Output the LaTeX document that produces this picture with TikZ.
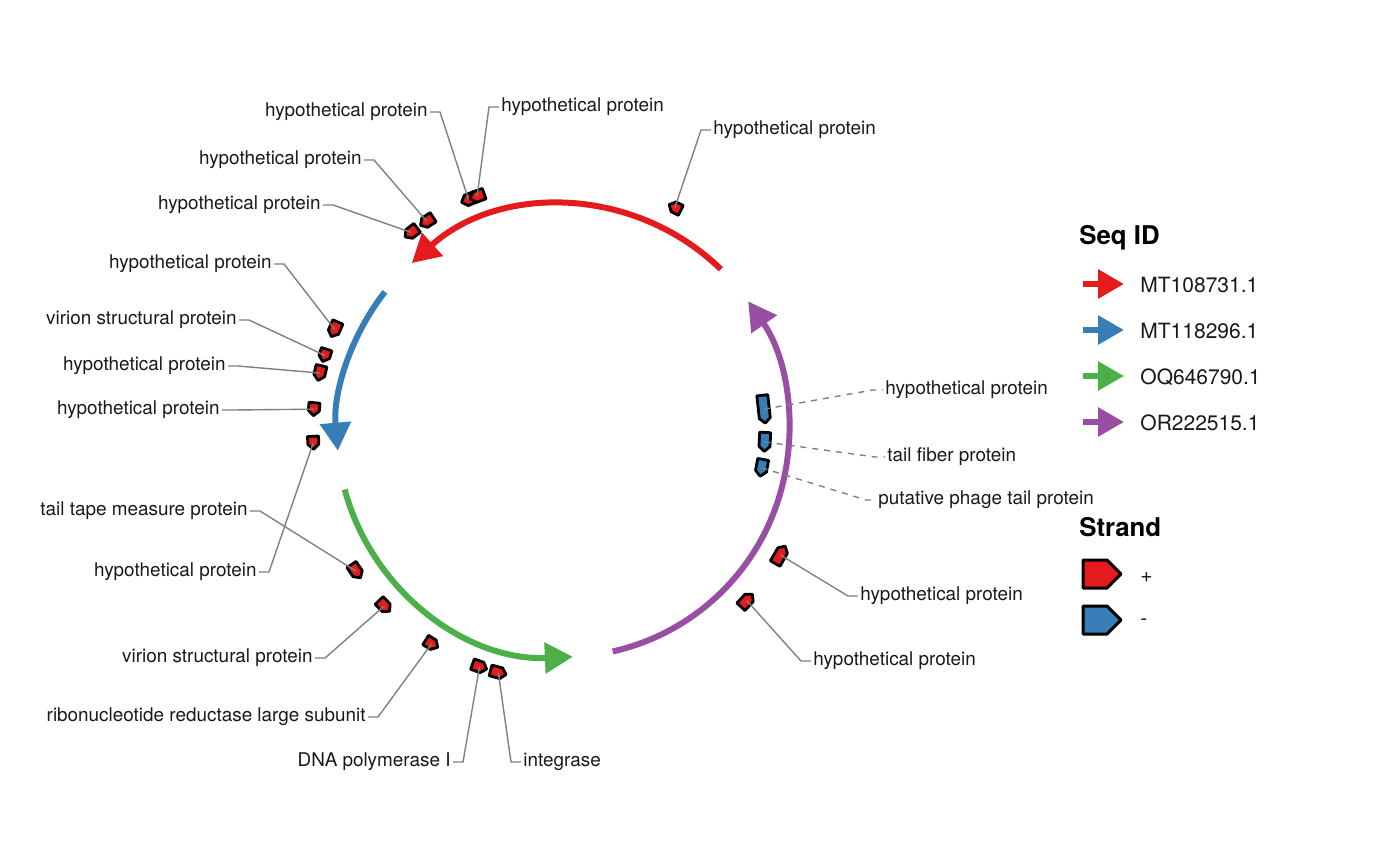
\documentclass[tikz,border=0pt]{standalone}
\usepackage{fontspec}
\setmainfont{TeX Gyre Heros}
\usetikzlibrary{arrows.meta}

\definecolor{setred}{HTML}{E41A1C}
\definecolor{setblue}{HTML}{377EB8}
\definecolor{setgreen}{HTML}{4DAF4A}
\definecolor{setpurple}{HTML}{984EA3}

\tikzset{
  seqarc/.style={line width=3pt,-{Triangle[length=14pt,width=15pt]}},
  keyarrow/.style={line width=3pt,-{Triangle[length=13pt,width=14pt]}},
  genebox/.style={draw=black,line width=1.4pt,line join=round},
  conn/.style={draw=black!50,line width=0.7pt},
  lbl/.style={font=\fontsize{9.45pt}{11pt}\selectfont,text=black!90,inner sep=1pt},
  keytxt/.style={font=\fontsize{10.5pt}{12pt}\selectfont,text=black!90,inner sep=0pt,anchor=west},
  keytitle/.style={font=\fontsize{12.9pt}{15pt}\selectfont\bfseries,inner sep=0pt,anchor=west},
}

% forward gene, outside the ring: name, angle, length
\newcommand{\fwdgene}[3]{%
  \begin{scope}[shift={(ctr)},rotate=#2]
    \draw[genebox,fill=setred] (244.5,#3/2) -- (255.5,#3/2) -- (255.5,-#3/2+5) -- (250,-#3/2) -- (244.5,-#3/2+5) -- cycle;
    \coordinate (#1) at (250,0);
  \end{scope}}
% reverse gene, inside the ring
\newcommand{\revgene}[3]{%
  \begin{scope}[shift={(ctr)},rotate=#2]
    \draw[genebox,fill=setblue] (196.5,-#3/2) -- (207.5,-#3/2) -- (207.5,#3/2-5) -- (202,#3/2) -- (196.5,#3/2-5) -- cycle;
    \coordinate (#1) at (202,0);
  \end{scope}}

\begin{document}
\begin{tikzpicture}[x=0.5pt,y=-0.5pt]
  \useasboundingbox (0,0) rectangle (1400,866);
  \coordinate (ctr) at (563,431);

  % sequences (y axis points down, so angles are negated)
  \draw[seqarc,setred] (ctr) ++(-45.7:226) arc[start angle=-45.7,end angle=-132,radius=226];
  \draw[seqarc,setblue] (ctr) ++(-142:226) arc[start angle=-142,end angle=-185,radius=226];
  \draw[seqarc,setgreen] (ctr) ++(-195:226) arc[start angle=-195,end angle=-272.5,radius=226];
  \draw[seqarc,setpurple] (ctr) ++(-282.7:226) arc[start angle=-282.7,end angle=-395,radius=226];

  % genes
  \fwdgene{g1}{112.2}{15}
  \fwdgene{g2}{110.1}{15}
  \fwdgene{g3}{63.4}{13}
  \fwdgene{g4}{123}{15}
  \fwdgene{g5}{127.4}{15}
  \fwdgene{g6}{156}{16}
  \fwdgene{g7}{162.4}{13}
  \fwdgene{g8}{166.6}{15}
  \fwdgene{g9}{175}{13}
  \fwdgene{g10}{214.1}{16}
  \fwdgene{g11}{182.7}{13}
  \fwdgene{g12}{224.4}{15}
  \fwdgene{g13}{238.3}{14}
  \fwdgene{g14}{250.5}{15}
  \fwdgene{g15}{255}{16}
  \revgene{g16}{6.2}{28}
  \revgene{g17}{-3.1}{19}
  \revgene{g18}{-10.5}{17}
  \fwdgene{g19}{330.3}{20}
  \fwdgene{g20}{317.3}{17}

  % labels
  \node[lbl,anchor=east] (l1) at (430,112) {hypothetical protein};
  \node[lbl,anchor=west] (l2) at (499,107) {hypothetical protein};
  \node[lbl,anchor=west] (l3) at (711,130) {hypothetical protein};
  \node[lbl,anchor=east] (l4) at (364,160) {hypothetical protein};
  \node[lbl,anchor=east] (l5) at (323,205) {hypothetical protein};
  \node[lbl,anchor=east] (l6) at (274,264) {hypothetical protein};
  \node[lbl,anchor=east] (l7) at (239,320) {virion structural protein};
  \node[lbl,anchor=east] (l8) at (228,366) {hypothetical protein};
  \node[lbl,anchor=east] (l9) at (222,410) {hypothetical protein};
  \node[lbl,anchor=east] (l10) at (250,511) {tail tape measure protein};
  \node[lbl,anchor=east] (l11) at (259,572) {hypothetical protein};
  \node[lbl,anchor=east] (l12) at (315,658) {virion structural protein};
  \node[lbl,anchor=east] (l13) at (368,717) {ribonucleotide reductase large subunit};
  \node[lbl,anchor=east] (l14) at (453,762) {DNA polymerase I};
  \node[lbl,anchor=west] (l15) at (521,762) {integrase};
  \node[lbl,anchor=west] (l16) at (883,390) {hypothetical protein};
  \node[lbl,anchor=west] (l17) at (885,457) {tail fiber protein};
  \node[lbl,anchor=west] (l18) at (876,500) {putative phage tail protein};
  \node[lbl,anchor=west] (l19) at (858,596) {hypothetical protein};
  \node[lbl,anchor=west] (l20) at (811,661) {hypothetical protein};

  % leader lines
  \foreach \i in {1,4,5,6,7,8,9,10,11,12,13,14}
    \draw[conn] (g\i) -- ([xshift=5pt]l\i.east) -- (l\i.east);
  \foreach \i in {2,3,15,19,20}
    \draw[conn] (g\i) -- ([xshift=-5pt]l\i.west) -- (l\i.west);
  \foreach \i in {16,17,18}
    \draw[conn,dashed] (g\i) -- ([xshift=-5pt]l\i.west) -- (l\i.west);

  % legend: Seq ID
  \node[keytitle] (seqid) at (1079,238) {Seq ID};
  \draw[keyarrow,setred] (1083,284) -- (1124,284);
  \node[keytxt] (k1) at (1140,285) {MT108731.1};
  \draw[keyarrow,setblue] (1083,330) -- (1124,330);
  \node[keytxt] (k2) at (1140,331) {MT118296.1};
  \draw[keyarrow,setgreen] (1083,376) -- (1124,376);
  \node[keytxt] (k3) at (1140,377) {OQ646790.1};
  \draw[keyarrow,setpurple] (1083,422) -- (1124,422);
  \node[keytxt] (k4) at (1140,423) {OR222515.1};

  % legend: Strand
  \node[keytitle] (strand) at (1079,527) {Strand};
  \draw[genebox,line width=1.5pt,fill=setred] (1083,560) -- (1107,560) -- (1121,574) -- (1107,588) -- (1083,588) -- cycle;
  \node[keytxt] (k5) at (1140,578) {+};
  \draw[genebox,line width=1.5pt,fill=setblue] (1083,606) -- (1107,606) -- (1121,620) -- (1107,634) -- (1083,634) -- cycle;
  \node[keytxt] (k6) at (1140,622) {-};
\end{tikzpicture}
\end{document}
